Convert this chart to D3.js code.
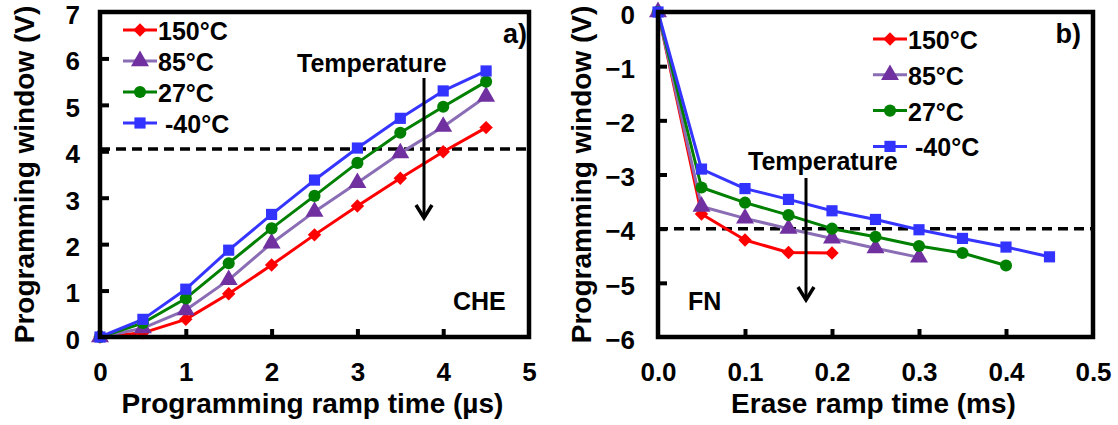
<!DOCTYPE html>
<html><head><meta charset="utf-8">
<script src="https://cdn.jsdelivr.net/npm/d3@7"></script>
<style>
html,body{margin:0;padding:0;background:#fff;}
svg text{font-family:"Liberation Sans",Arial,sans-serif;font-weight:bold;fill:#000;}
</style></head>
<body>
<svg id="chart" width="1118" height="425"></svg>
<script>
// ---------- Data ----------
const seriesNames = ["150°C", "85°C", "27°C", "-40°C"];
const progTime = [0, 0.5, 1, 1.5, 2, 2.5, 3, 3.5, 4, 4.5];
const prog150 = [0, 0.09, 0.38, 0.93, 1.55, 2.20, 2.82, 3.42, 3.99, 4.51];
const prog85  = [0, 0.19, 0.58, 1.23, 2.02, 2.70, 3.32, 3.96, 4.53, 5.18];
const prog27  = [0, 0.30, 0.83, 1.59, 2.34, 3.04, 3.75, 4.40, 4.96, 5.50];
const progM40 = [0, 0.38, 1.03, 1.87, 2.64, 3.38, 4.07, 4.71, 5.30, 5.73];

const eraseTime150 = [0, 0.05, 0.1, 0.15, 0.2];
const erase150 = [0, -3.73, -4.21, -4.44, -4.45];
const eraseTime85 = [0, 0.05, 0.1, 0.15, 0.2, 0.25, 0.3];
const erase85 = [0, -3.59, -3.81, -4.00, -4.18, -4.36, -4.53];
const eraseTime27 = [0, 0.05, 0.1, 0.15, 0.2, 0.25, 0.3, 0.35, 0.4];
const erase27 = [0, -3.24, -3.52, -3.75, -4.00, -4.15, -4.32, -4.45, -4.68];
const eraseTimeM40 = [0, 0.05, 0.1, 0.15, 0.2, 0.25, 0.3, 0.35, 0.4, 0.45];
const eraseM40 = [0, -2.90, -3.26, -3.46, -3.67, -3.83, -4.02, -4.18, -4.34, -4.52];

const progXTicks = [0, 1, 2, 3, 4, 5];
const progYTicks = [0, 1, 2, 3, 4, 5, 6, 7];
const eraseXTicks = [0, 0.1, 0.2, 0.3, 0.4, 0.5];
const eraseYTicks = [0, -1, -2, -3, -4, -5, -6];
const progThreshold = 4.05;
const eraseThreshold = -4;

// ---------- Styles ----------
const lineColors = ["#ff0000", "#8a6db5", "#008000", "#3535ff"];
const markerColors = ["#ff0000", "#7030a0", "#008000", "#3333ff"];
const diamondWide = {
  draw(ctx, size) {
    const r = Math.sqrt(size / 2);
    ctx.moveTo(0, -r); ctx.lineTo(r, 0); ctx.lineTo(0, r); ctx.lineTo(-r, 0); ctx.closePath();
  }
};
const markerTypes = [diamondWide, d3.symbolTriangle, d3.symbolCircle, d3.symbolSquare];
const markerSizes = [90, 140, 115, 125];

const svg = d3.select("#chart");
const FONT = "'Liberation Sans',Arial,sans-serif";

function panel(cfg) {
  const x = d3.scaleLinear().domain(cfg.xDomain).range([cfg.left, cfg.right]);
  const y = d3.scaleLinear().domain(cfg.yDomain).range([cfg.bottom, cfg.top]);
  const g = svg.append("g");

  // dashed threshold
  g.append("line")
    .attr("x1", cfg.left).attr("x2", cfg.right)
    .attr("y1", y(cfg.threshold)).attr("y2", y(cfg.threshold))
    .attr("stroke", "#000").attr("stroke-width", 3.5)
    .attr("stroke-dasharray", "10,6");

  // series
  cfg.series.forEach((s, i) => {
    const pts = s.x.map((xv, j) => [xv, s.y[j]]);
    g.append("path").datum(pts)
      .attr("fill", "none").attr("stroke", lineColors[i]).attr("stroke-width", 3)
      .attr("stroke-linejoin", "round")
      .attr("d", d3.line().x(d => x(d[0])).y(d => y(d[1])));
  });
  cfg.series.forEach((s, i) => {
    const pts = s.x.map((xv, j) => [xv, s.y[j]]);
    g.selectAll(null).data(pts).enter().append("path")
      .attr("transform", d => `translate(${x(d[0])},${y(d[1])})`)
      .attr("d", d3.symbol().type(markerTypes[i]).size(markerSizes[i]))
      .attr("fill", markerColors[i]);
  });

  // frame
  g.append("rect")
    .attr("x", cfg.left).attr("y", cfg.top)
    .attr("width", cfg.right - cfg.left).attr("height", cfg.bottom - cfg.top)
    .attr("fill", "none").attr("stroke", "#000").attr("stroke-width", 4.5);

  // axes with inward ticks
  const xAxis = d3.axisBottom(x).tickValues(cfg.xTicks).tickSizeInner(-8).tickSizeOuter(0)
    .tickFormat(cfg.xFormat).tickPadding(26);
  const xa = g.append("g").attr("transform", `translate(0,${cfg.bottom})`).call(xAxis);
  const yAxis = d3.axisLeft(y).tickValues(cfg.yTicks).tickSizeInner(-9).tickSizeOuter(0)
    .tickFormat(d3.format("d")).tickPadding(cfg.yPad);
  const ya = g.append("g").attr("transform", `translate(${cfg.left},0)`).call(yAxis);
  [xa, ya].forEach(a => {
    a.select(".domain").remove();
    a.selectAll(".tick line").attr("stroke", "#000").attr("stroke-width", 4);
    a.selectAll(".tick text").style("font-size", "26px").style("font-family", FONT).style("font-weight", "bold");
  });
  ya.selectAll(".tick text").attr("y", 3);
  // hide tick marks on frame edges
  xa.selectAll(".tick line").filter(d => d === cfg.xDomain[0] || d === cfg.xDomain[1]).remove();
  ya.selectAll(".tick line").filter(d => d === cfg.yDomain[0] || d === cfg.yDomain[1]).remove();

  // axis titles
  g.append("text").attr("x", (cfg.left + cfg.right) / 2 - 2).attr("y", 413)
    .attr("text-anchor", "middle").style("font-size", "28px").text(cfg.xTitle);
  g.append("text").attr("transform", `translate(${cfg.yTitleX},${(cfg.top + cfg.bottom) / 2}) rotate(-90)`)
    .attr("text-anchor", "middle").style("font-size", "28px").text("Programming window (V)");

  // legend
  seriesNames.forEach((n, i) => {
    const ly = cfg.legY + i * cfg.legStep;
    g.append("line").attr("x1", cfg.legX).attr("x2", cfg.legX + 34)
      .attr("y1", ly).attr("y2", ly).attr("stroke", lineColors[i]).attr("stroke-width", 3);
    g.append("path").attr("transform", `translate(${cfg.legX + 17},${ly})`)
      .attr("d", d3.symbol().type(markerTypes[i]).size(markerSizes[i])).attr("fill", markerColors[i]);
    g.append("text").attr("x", cfg.legX + 35 + (n.startsWith("-") ? 7 : 0)).attr("y", ly + 10)
      .style("font-size", "25px").text(n);
  });

  // annotations
  g.append("text").attr("x", cfg.tag[0]).attr("y", cfg.tag[1]).attr("text-anchor", "end")
    .style("font-size", "27px").text(cfg.tagText);
  g.append("text").attr("x", cfg.mech[0]).attr("y", cfg.mech[1])
    .style("font-size", "25px").text(cfg.mechText);
  g.append("text").attr("x", cfg.temp[0]).attr("y", cfg.temp[1])
    .style("font-size", "25px").text("Temperature");
  const ax = cfg.arrow[0], ay1 = cfg.arrow[1], ay2 = cfg.arrow[2];
  g.append("line").attr("x1", ax).attr("x2", ax).attr("y1", ay1).attr("y2", ay2)
    .attr("stroke", "#000").attr("stroke-width", 3);
  g.append("path").attr("d", `M${ax - 8},${ay2 - 13}L${ax},${ay2}L${ax + 8},${ay2 - 13}`)
    .attr("fill", "none").attr("stroke", "#000").attr("stroke-width", 3.5);
}

panel({
  left: 100, right: 529, top: 12, bottom: 337,
  xDomain: [0, 5], yDomain: [0, 7],
  xTicks: progXTicks, yTicks: progYTicks, xFormat: d3.format("d"), yPad: 20,
  threshold: progThreshold,
  series: [
    {x: progTime, y: prog150}, {x: progTime, y: prog85},
    {x: progTime, y: prog27}, {x: progTime, y: progM40}
  ],
  xTitle: "Programming ramp time (µs)", yTitleX: 34,
  legX: 123, legY: 30, legStep: 31,
  tag: [527, 43], tagText: "a)",
  mech: [453, 310], mechText: "CHE",
  temp: [297, 72],
  arrow: [424, 78, 218]
});

panel({
  left: 658, right: 1093, top: 12, bottom: 337,
  xDomain: [0, 0.5], yDomain: [-6, 0],
  xTicks: eraseXTicks, yTicks: eraseYTicks, xFormat: d3.format(".1f"), yPad: 23,
  threshold: eraseThreshold,
  series: [
    {x: eraseTime150, y: erase150}, {x: eraseTime85, y: erase85},
    {x: eraseTime27, y: erase27}, {x: eraseTimeM40, y: eraseM40}
  ],
  xTitle: "Erase ramp time (ms)", yTitleX: 591,
  legX: 873, legY: 39, legStep: 35.8,
  tag: [1081, 43], tagText: "b)",
  mech: [688, 310], mechText: "FN",
  temp: [748, 170],
  arrow: [806, 178, 300]
});
</script>
</body></html>
